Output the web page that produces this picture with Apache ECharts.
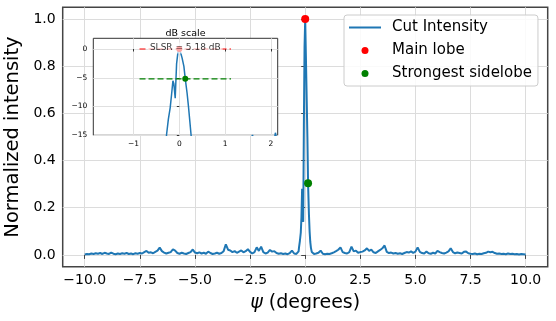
<!DOCTYPE html>
<html>
<head>
<meta charset="utf-8">
<script src="https://cdn.jsdelivr.net/npm/echarts@6/dist/echarts.min.js"></script>
<style>
html, body { margin: 0; padding: 0; background: #fff; }
#chart { width: 556px; height: 321px; }
</style>
</head>
<body>
<div id="chart"></div>
<script>
// angle samples (deg), left of the main lobe
const psiLeft = [
  -10.0, -9.9, -9.8, -9.7, -9.6, -9.5, -9.4, -9.3, -9.2, -9.1,
  -9.0, -8.9, -8.8, -8.7, -8.6, -8.5, -8.4, -8.3, -8.2, -8.1,
  -8.0, -7.9, -7.8, -7.7, -7.6, -7.5, -7.4, -7.3, -7.2, -7.1,
  -7.0, -6.9, -6.8, -6.7, -6.6, -6.5, -6.4, -6.3, -6.2, -6.1,
  -6.0, -5.9, -5.8, -5.7, -5.6, -5.5, -5.4, -5.3, -5.2, -5.1,
  -5.0, -4.9, -4.8, -4.7, -4.6, -4.5, -4.4, -4.3, -4.2, -4.1,
  -4.0, -3.9, -3.8, -3.7, -3.6, -3.5, -3.4, -3.3, -3.2, -3.1,
  -3.0, -2.9, -2.8, -2.7, -2.6, -2.5, -2.4, -2.3, -2.2, -2.1,
  -2.0, -1.9, -1.8, -1.7, -1.6, -1.5, -1.4, -1.3, -1.2, -1.1,
  -1.0, -0.9, -0.8, -0.7, -0.6, -0.5, -0.4
]
const intensityLeft = [
  0.002, 0.004, 0.003, 0.006, 0.004, 0.007, 0.005, 0.008, 0.004, 0.009,
  0.006, 0.004, 0.010, 0.005, 0.003, 0.006, 0.004, 0.007, 0.005, 0.008,
  0.004, 0.006, 0.003, 0.007, 0.005, 0.008, 0.006, 0.012, 0.017, 0.009,
  0.011, 0.007, 0.013, 0.018, 0.031, 0.016, 0.010, 0.006, 0.009, 0.012,
  0.024, 0.018, 0.008, 0.005, 0.009, 0.006, 0.004, 0.008, 0.012, 0.023,
  0.010, 0.007, 0.011, 0.006, 0.009, 0.005, 0.014, 0.008, 0.004, 0.006,
  0.009, 0.005, 0.008, 0.016, 0.045, 0.022, 0.019, 0.012, 0.016, 0.009,
  0.014, 0.019, 0.011, 0.016, 0.024, 0.013, 0.006, 0.012, 0.032, 0.017,
  0.035, 0.012, 0.006, 0.010, 0.021, 0.014, 0.016, 0.008, 0.005, 0.007,
  0.004, 0.006, 0.003, 0.008, 0.018, 0.006, 0.004
]
// main lobe, finer sampling
const psiCenter = [
  -0.35, -0.3, -0.28, -0.24, -0.2, -0.17, -0.14, -0.12, -0.09, -0.06, -0.03,
  0, 0.03, 0.06, 0.1, 0.13, 0.17, 0.2, 0.23, 0.26, 0.3, 0.35
]
const intensityCenter = [
  0.008, 0.015, 0.032, 0.06, 0.095, 0.16, 0.28, 0.25, 0.14, 0.55, 0.88,
  1.0, 0.85, 0.7, 0.5, 0.3034, 0.17, 0.1, 0.055, 0.03, 0.012, 0.005
]
const psiRight = [
  0.4, 0.5, 0.6, 0.7, 0.8, 0.9, 1.0, 1.1, 1.2, 1.3,
  1.4, 1.5, 1.6, 1.7, 1.8, 1.9, 2.0, 2.1, 2.2, 2.3,
  2.4, 2.5, 2.6, 2.7, 2.8, 2.9, 3.0, 3.1, 3.2, 3.3,
  3.4, 3.5, 3.6, 3.7, 3.8, 3.9, 4.0, 4.1, 4.2, 4.3,
  4.4, 4.5, 4.6, 4.7, 4.8, 4.9, 5.0, 5.1, 5.2, 5.3,
  5.4, 5.5, 5.6, 5.7, 5.8, 5.9, 6.0, 6.1, 6.2, 6.3,
  6.4, 6.5, 6.6, 6.7, 6.8, 6.9, 7.0, 7.1, 7.2, 7.3,
  7.4, 7.5, 7.6, 7.7, 7.8, 7.9, 8.0, 8.1, 8.2, 8.3,
  8.4, 8.5, 8.6, 8.7, 8.8, 8.9, 9.0, 9.1, 9.2, 9.3,
  9.4, 9.5, 9.6, 9.7, 9.8, 9.9, 10.0
]
const intensityRight = [
  0.004, 0.006, 0.009, 0.018, 0.005, 0.003, 0.005, 0.004, 0.007, 0.011,
  0.016, 0.022, 0.032, 0.012, 0.008, 0.006, 0.012, 0.035, 0.015, 0.018,
  0.009, 0.012, 0.014, 0.019, 0.028, 0.017, 0.022, 0.011, 0.008, 0.015,
  0.021, 0.028, 0.040, 0.013, 0.008, 0.010, 0.006, 0.008, 0.005, 0.007,
  0.004, 0.008, 0.012, 0.010, 0.015, 0.009, 0.014, 0.032, 0.013, 0.008,
  0.006, 0.014, 0.007, 0.005, 0.009, 0.006, 0.017, 0.012, 0.008, 0.006,
  0.010, 0.015, 0.028, 0.012, 0.007, 0.010, 0.008, 0.006, 0.013, 0.014,
  0.007, 0.005, 0.004, 0.006, 0.003, 0.005, 0.004, 0.007, 0.009, 0.014,
  0.011, 0.013, 0.008, 0.005, 0.006, 0.004, 0.005, 0.003, 0.006, 0.004,
  0.005, 0.003, 0.004, 0.002, 0.004, 0.003, 0.002
]

const mainLobe = [0, 1.0]
const sideLobe = [0.13, 0.3034]
const refSpan = 1 // dashed reference lines: sidelobe angle +/- 1 deg

const xTicks = [-10, -7.5, -5, -2.5, 0, 2.5, 5, 7.5, 10]
const yTicks = [0, 0.2, 0.4, 0.6, 0.8, 1.0]
const insetXTicks = [-1, 0, 1, 2]
const insetYTicks = [0, -5, -10, -15]

const FONT = 'DejaVu Sans'
const minus = s => String(s).replace('-', '\u2212')

const psi = psiLeft.concat(psiCenter, psiRight)
const intensity = intensityLeft.concat(intensityCenter, intensityRight)
const cutData = psi.map((x, i) => [x, intensity[i]])
const dbData = psi.map((x, i) => [x, 10 * Math.log10(intensity[i])])
const slsr = 10 * Math.log10(mainLobe[1] / sideLobe[1])

// inset placement
const inset = { left: 93.3, top: 38.3, width: 184.4, height: 97 }
const dot = 'path://M0,0 M38,8 M12.5,4 A3.5,3.5 0 1 1 19.5,4 A3.5,3.5 0 1 1 12.5,4 Z'

const chart = echarts.init(document.getElementById('chart'))
chart.setOption({
  animation: false,
  textStyle: { fontFamily: FONT },
  grid: [{
    left: 62.7, top: 7.3, right: 8.3, bottom: 54.3,
    show: true, borderColor: '#444', borderWidth: 1.5,
    backgroundColor: 'transparent',
    outerBoundsMode: 'none'
  }, {
    left: inset.left, top: inset.top, width: inset.width, height: inset.height,
    show: true, borderColor: '#333', borderWidth: 1,
    backgroundColor: '#fff', z: 5,
    outerBoundsMode: 'none'
  }],
  xAxis: [{
    type: 'value', gridIndex: 0, min: -11, max: 11,
    axisLine: { show: false },
    axisTick: { customValues: xTicks, length: 4, lineStyle: { color: '#444' } },
    axisLabel: {
      customValues: xTicks, fontSize: 14, color: '#000', margin: 7,
      formatter: v => minus(v.toFixed(1))
    },
    splitLine: { show: true, lineStyle: { color: '#dcdcdc', width: 1 } },
    name: '{i|ψ} (degrees)', nameLocation: 'middle', nameGap: 27,
    nameTextStyle: {
      fontSize: 19, color: '#000',
      rich: { i: { fontSize: 19, fontStyle: 'italic', fontFamily: FONT, color: '#000' } }
    }
  }, {
    type: 'value', gridIndex: 1, min: -1.88, max: 2.15, z: 6,
    axisLine: { show: false },
    axisTick: { customValues: insetXTicks, length: 2.5, lineStyle: { color: '#333' } },
    axisLabel: {
      customValues: insetXTicks, fontSize: 7.5, color: '#000', margin: 5,
      formatter: v => minus(v)
    },
    splitLine: { show: true, lineStyle: { color: '#e0e0e0', width: 1 } }
  }],
  yAxis: [{
    type: 'value', gridIndex: 0, min: -0.05, max: 1.05,
    axisLine: { show: false },
    axisTick: { customValues: yTicks, length: 4, lineStyle: { color: '#444' } },
    axisLabel: {
      customValues: yTicks, fontSize: 14, color: '#000', margin: 7,
      formatter: v => v.toFixed(1)
    },
    splitLine: { show: true, lineStyle: { color: '#dcdcdc', width: 1 } },
    name: 'Normalized intensity', nameLocation: 'middle', nameGap: 37,
    nameTextStyle: { fontSize: 19.5, color: '#000' }
  }, {
    type: 'value', gridIndex: 1, min: -15, max: 1.86, z: 6,
    axisLine: { show: false },
    axisTick: { customValues: insetYTicks, length: 2.5, lineStyle: { color: '#333' } },
    axisLabel: {
      customValues: insetYTicks, fontSize: 7.5, color: '#000', margin: 6,
      formatter: v => minus(v)
    },
    splitLine: { show: true, lineStyle: { color: '#e0e0e0', width: 1 } }
  }],
  graphic: [{
    type: 'text', z: 10,
    x: inset.left + inset.width / 2, y: inset.top - 5,
    style: {
      text: 'dB scale', fontSize: 9.5, fontFamily: FONT, fill: '#000',
      align: 'center', verticalAlign: 'middle'
    }
  }],
  legend: {
    orient: 'vertical', left: 344, top: 15,
    itemWidth: 38, itemHeight: 8, itemGap: 8,
    padding: [5, 6, 5, 5],
    backgroundColor: 'rgba(255,255,255,0.85)',
    borderColor: '#cccccc', borderWidth: 1, borderRadius: 3,
    textStyle: { fontSize: 15, color: '#000', fontFamily: FONT },
    z: 10,
    data: [
      { name: 'Cut Intensity', icon: 'path://M0,0 M0,3 L32,3 L32,5 L0,5 Z M38,8' },
      { name: 'Main lobe', icon: dot, itemStyle: { opacity: 1 } },
      { name: 'Strongest sidelobe', icon: dot, itemStyle: { opacity: 1 } }
    ]
  },
  series: [{
    name: 'Cut Intensity', type: 'line', xAxisIndex: 0, yAxisIndex: 0,
    data: cutData, symbol: 'none', z: 2,
    lineStyle: { color: '#1f77b4', width: 2 }, itemStyle: { color: '#1f77b4' }
  }, {
    name: 'Main lobe', type: 'scatter', xAxisIndex: 0, yAxisIndex: 0,
    data: [mainLobe], symbolSize: 8, z: 3, itemStyle: { color: '#ff0000', opacity: 1 }
  }, {
    name: 'Strongest sidelobe', type: 'scatter', xAxisIndex: 0, yAxisIndex: 0,
    data: [sideLobe], symbolSize: 8, z: 3, itemStyle: { color: '#008000', opacity: 1 }
  }, {
    // inset: same cut in dB
    name: 'cut dB', type: 'line', xAxisIndex: 1, yAxisIndex: 1,
    data: dbData, symbol: 'none', z: 7, clip: true,
    lineStyle: { color: '#1f77b4', width: 1.5 }
  }, {
    name: 'main ref', type: 'line', xAxisIndex: 1, yAxisIndex: 1,
    data: [[sideLobe[0] - refSpan, 0], [sideLobe[0] + refSpan, 0]],
    symbol: 'none', z: 7,
    lineStyle: { color: '#ff0000', width: 1.2, type: [6, 3] }
  }, {
    name: 'side ref', type: 'line', xAxisIndex: 1, yAxisIndex: 1,
    data: [[sideLobe[0] - refSpan, -slsr], [sideLobe[0] + refSpan, -slsr]],
    symbol: 'none', z: 7,
    lineStyle: { color: '#008000', width: 1.2, type: [6, 3] }
  }, {
    name: 'main dB', type: 'scatter', xAxisIndex: 1, yAxisIndex: 1,
    data: [[mainLobe[0], 0]], symbolSize: 6, z: 8, itemStyle: { color: '#ff0000', opacity: 1 }
  }, {
    name: 'side dB', type: 'scatter', xAxisIndex: 1, yAxisIndex: 1,
    data: [[sideLobe[0], -slsr]], symbolSize: 6, z: 8, itemStyle: { color: '#008000', opacity: 1 }
  }, {
    name: 'slsr label', type: 'scatter', xAxisIndex: 1, yAxisIndex: 1,
    data: [[sideLobe[0], 0]], symbolSize: 1, z: 9, silent: true,
    itemStyle: { color: 'rgba(0,0,0,0)' },
    label: {
      show: true, position: 'inside', offset: [0, -1],
      formatter: 'SLSR = ' + slsr.toFixed(2) + ' dB',
      fontSize: 9, color: '#000', fontFamily: FONT,
      backgroundColor: 'rgba(255,255,255,0.8)', padding: [1, 2]
    }
  }]
})
</script>
</body>
</html>
